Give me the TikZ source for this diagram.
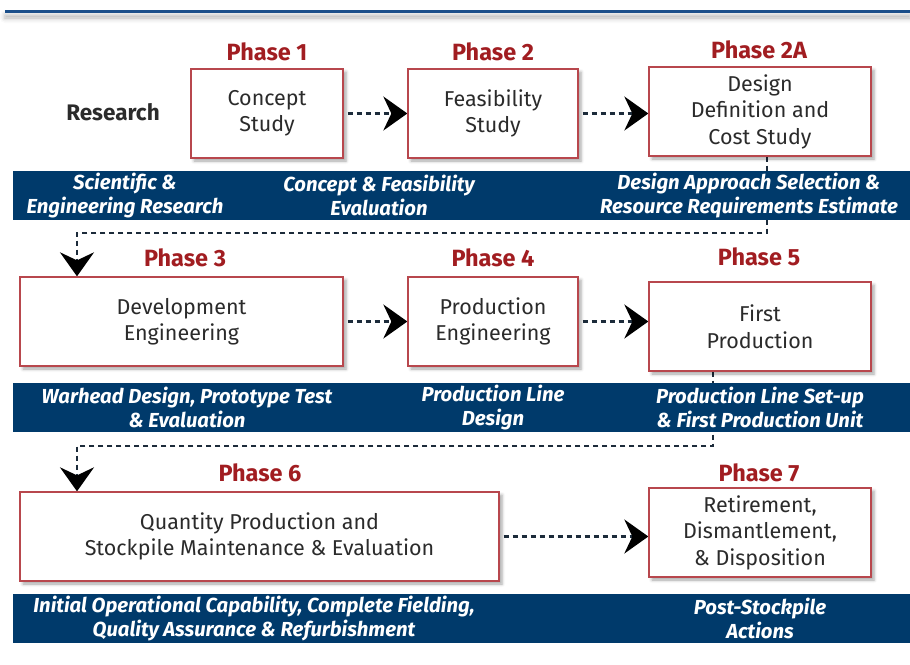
\documentclass[tikz,border=0pt]{standalone}
\usepackage{fontspec}
\setmainfont{Fira Sans}
\usetikzlibrary{arrows.meta,shadows.blur,backgrounds}
\definecolor{bandblue}{HTML}{003A6B}
\definecolor{topblue}{HTML}{1B4F8A}
\definecolor{phasered}{HTML}{A11D21}
\definecolor{boxred}{HTML}{B8474D}
\definecolor{boxtext}{HTML}{2B2B2B}
\definecolor{connblue}{HTML}{1C2B3A}
\tikzset{
  phasebox/.style={draw=boxred, line width=1.3pt, fill=white, text=boxtext,
    align=center, inner sep=0pt, font=\fontsize{21.5}{26.5}\selectfont,
    blur shadow={shadow xshift=3pt, shadow yshift=-3pt, shadow blur radius=3pt, shadow opacity=35}},
  phaselabel/.style={text=phasered, font=\fontsize{23.5}{26}\selectfont\bfseries, anchor=base, inner sep=0pt},
  bandtext/.style={text=white, align=center, inner sep=0pt, font=\fontsize{20.3}{24}\selectfont\bfseries\itshape},
  conn/.style={draw=connblue, line width=2.4pt, dash pattern=on 5pt off 4pt,
    -{Stealth[length=24pt,width=34pt,inset=8pt,color=black,fill=black]}},
}
\begin{document}
\begin{tikzpicture}[x=1pt,y=-1pt]
\useasboundingbox (0,0) rectangle (910,664);
% top rule
\fill[topblue, blur shadow={shadow xshift=0pt, shadow yshift=-5pt, shadow blur radius=5pt, shadow opacity=30}] (5,10) rectangle (910,13);

% boxes
\node[phasebox, minimum width=152pt, minimum height=89pt] (p1) at (267,113.5) {Concept\\Study};
\node[phasebox, minimum width=170pt, minimum height=89pt] (p2) at (493,113.5) {Feasibility\\Study};
\node[phasebox, minimum width=222pt, minimum height=89pt] (p2a) at (760,111.5) {Design\\Definition and\\Cost Study};
\node[phasebox, minimum width=323pt, minimum height=89pt] (p3) at (181.5,321.5) {Development\\Engineering};
\node[phasebox, minimum width=170pt, minimum height=89pt] (p4) at (493,321.5) {Production\\Engineering};
\node[phasebox, minimum width=222pt, minimum height=89pt] (p5) at (760,326.5) {First\\Production};
\node[phasebox, minimum width=479pt, minimum height=89pt] (p6) at (259.5,536.5) {Quantity Production and\\Stockpile Maintenance \& Evaluation};
\node[phasebox, minimum width=222pt, minimum height=89pt] (p7) at (760,532.5) {Retirement,\\Dismantlement,\\\& Disposition};

% phase labels
\node[phaselabel] (l1) at (267,60) {Phase 1};
\node[phaselabel] (l2) at (493,60) {Phase 2};
\node[phaselabel] (l2a) at (759,58) {Phase 2A};
\node[phaselabel] (l3) at (185,266) {Phase 3};
\node[phaselabel] (l4) at (493,266) {Phase 4};
\node[phaselabel] (l5) at (759,265) {Phase 5};
\node[phaselabel] (l6) at (260,481) {Phase 6};
\node[phaselabel] (l7) at (759,481) {Phase 7};

\node[text=boxtext, font=\fontsize{22.5}{26}\selectfont\bfseries, anchor=base, inner sep=0pt] (res) at (113,120) {Research};

% bands
\fill[bandblue] (13,171) rectangle (910,220);
\fill[bandblue] (13,383) rectangle (910,432);
\fill[bandblue] (13,594) rectangle (910,643);

\node[bandtext] (b1) at (125,195.5) {Scientific \&\\Engineering Research};
\node[bandtext] (b2) at (379,195.5) {Concept \& Feasibility\\Evaluation};
\node[bandtext] (b3) at (749,195.5) {Design Approach Selection \&\\Resource Requirements Estimate};
\node[bandtext] (b4) at (187,407.5) {Warhead Design, Prototype Test\\\& Evaluation};
\node[bandtext] (b5) at (493,407.5) {Production Line\\Design};
\node[bandtext] (b6) at (760,407.5) {Production Line Set-up\\\& First Production Unit};
\node[bandtext] (b7) at (254,618.5) {Initial Operational Capability, Complete Fielding,\\Quality Assurance \& Refurbishment};
\node[bandtext] (b8) at (760,618.5) {Post-Stockpile\\Actions};

% connectors (behind bands)
\begin{scope}[on background layer]
\draw[conn, shorten <=4pt] (p1.east) -- (p2.west);
\draw[conn, shorten <=4pt] (p2.east) -- (p2a.west |- p2.east);
\draw[conn, shorten <=4pt] (p3.east) -- (p4.west);
\draw[conn, shorten <=4pt] (p4.east) -- (p4.east -| p5.west);
\draw[conn, shorten <=4pt] (p6.east) -- (p6.east -| p7.west);
\coordinate (k1) at (77,233);
\draw[conn] ([xshift=7pt]p2a.south) |- (k1) -- (k1 |- p3.north);
\coordinate (k2) at (77,446);
\draw[conn] ([xshift=-47pt]p5.south) |- (k2) -- (k2 |- p6.north);
\end{scope}
\end{tikzpicture}
\end{document}
